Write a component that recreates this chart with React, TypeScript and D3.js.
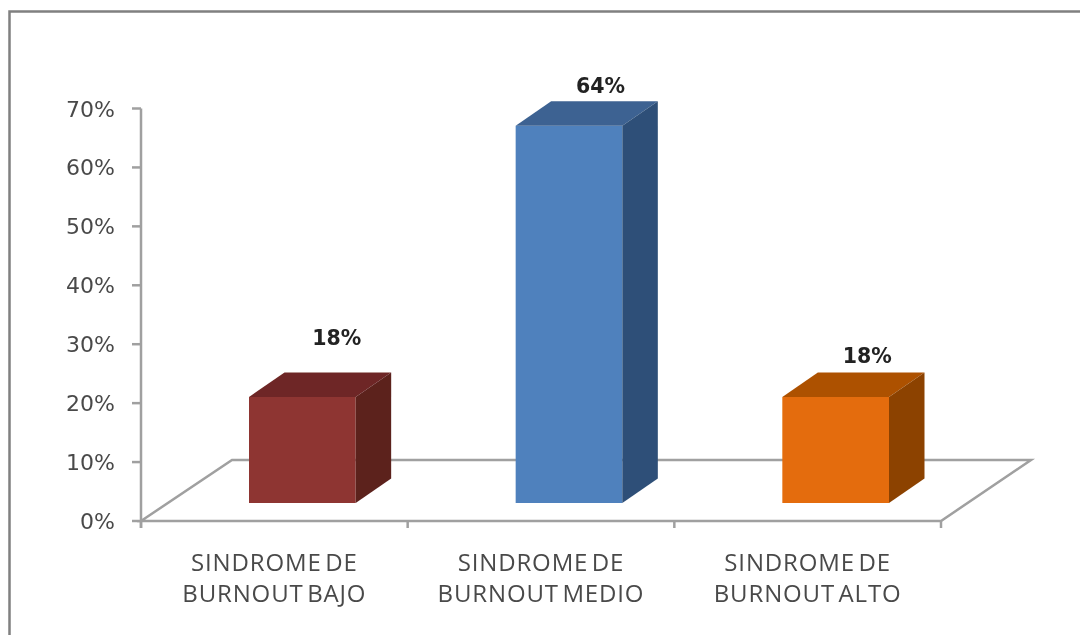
import React from "react";
import * as d3 from "d3";

const categories = ["SINDROME DE BURNOUT BAJO", "SINDROME DE BURNOUT MEDIO", "SINDROME DE BURNOUT ALTO"];
const categoryLines = [["SINDROME DE", "BURNOUT BAJO"], ["SINDROME DE", "BURNOUT MEDIO"], ["SINDROME DE", "BURNOUT ALTO"]];
const values = [18, 64, 18];
const valueLabels = ["18%", "64%", "18%"];
const frontColors = ["#8E3532", "#4F81BD", "#E46C0A"];
const topColors = ["#6E2825", "#3C6292", "#AD5104"];
const sideColors = ["#5C201E", "#2F5078", "#8C4303"];
const yTicks = [0, 10, 20, 30, 40, 50, 60, 70];

const W = 1080, H = 635;
const x0 = 141, x1 = 941, yBase = 521, yTop = 108.5;
const floorDx = 91, floorDy = -61;
const barShiftX = 28, barBaseShift = -18, depthX = 35.5, depthY = -24.5;
const labelOffsets = [[35, -59], [32, -40], [32, -41]];

const x = d3.scaleBand<string>().domain(categories).range([x0, x1]).paddingInner(0.6).paddingOuter(0.3);
const y = d3.scaleLinear().domain([0, 70]).range([yBase, yTop]);
const poly = (pts: number[][]) => (d3.line()(pts as [number, number][]) as string) + "Z";
const axisColor = "#A0A0A0";
const textColor = "#4a4a4a";

export default function App() {
  return (
    <svg width={W} height={H} style={{ position: "absolute", left: 0, top: 0, background: "#fff" }}>
      <defs>
        <filter id="soft" x="-2%" y="-2%" width="104%" height="104%">
          <feGaussianBlur stdDeviation="0.7" />
        </filter>
      </defs>
      <g filter="url(#soft)">
        <path d={`M9.5,${H}V11.5H${W}`} fill="none" stroke="#808080" strokeWidth={2.5} />
        <path
          d={poly([[x0, yBase], [x0 + floorDx, yBase + floorDy], [x1 + floorDx - 1, yBase + floorDy], [x1, yBase]])}
          fill="#fff" stroke={axisColor} strokeWidth={2.5}
        />
        <line x1={x0} x2={x0} y1={yTop} y2={yBase + 7} stroke={axisColor} strokeWidth={2.5} />
        {yTicks.map((t) => (
          <g key={t}>
            <line x1={x0 - 9} x2={x0} y1={y(t)} y2={y(t)} stroke={axisColor} strokeWidth={2.5} />
            <text x={115} y={y(t) + 8} textAnchor="end" fontFamily="'DejaVu Sans'" fontSize={22} fill={textColor}>{t}%</text>
          </g>
        ))}
        {d3.range(categories.length + 1).map((i) => {
          const tx = x0 + x.step() * i;
          return <line key={i} x1={tx} x2={tx} y1={yBase} y2={yBase + 7} stroke={axisColor} strokeWidth={2.5} />;
        })}
        {categories.map((c, i) => {
          const l = (x(c) as number) + barShiftX;
          const r = l + x.bandwidth();
          const b = yBase + barBaseShift;
          const t = y(values[i]) + barBaseShift;
          return (
            <g key={c}>
              <path d={poly([[l, b], [r, b], [r, t], [l, t]])} fill={frontColors[i]} />
              <path d={poly([[l, t], [r, t], [r + depthX, t + depthY], [l + depthX, t + depthY]])} fill={topColors[i]} />
              <path d={poly([[r, b], [r + depthX, b + depthY], [r + depthX, t + depthY], [r, t]])} fill={sideColors[i]} />
              <text
                x={l + x.bandwidth() / 2 + labelOffsets[i][0] - 0.5} y={t + labelOffsets[i][1] + 7}
                textAnchor="middle" fontFamily="'DejaVu Sans'" fontWeight={700} fontSize={20.5} fill="#222"
              >{valueLabels[i]}</text>
              {categoryLines[i].map((line, k) => (
                <text
                  key={k} x={(x(c) as number) + x.bandwidth() / 2} y={570.5 + k * 31}
                  textAnchor="middle" fontFamily="'Open Sans'" fontSize={24} letterSpacing={0.85} wordSpacing={-3.5} fill={textColor}
                >{line}</text>
              ))}
            </g>
          );
        })}
      </g>
    </svg>
  );
}
